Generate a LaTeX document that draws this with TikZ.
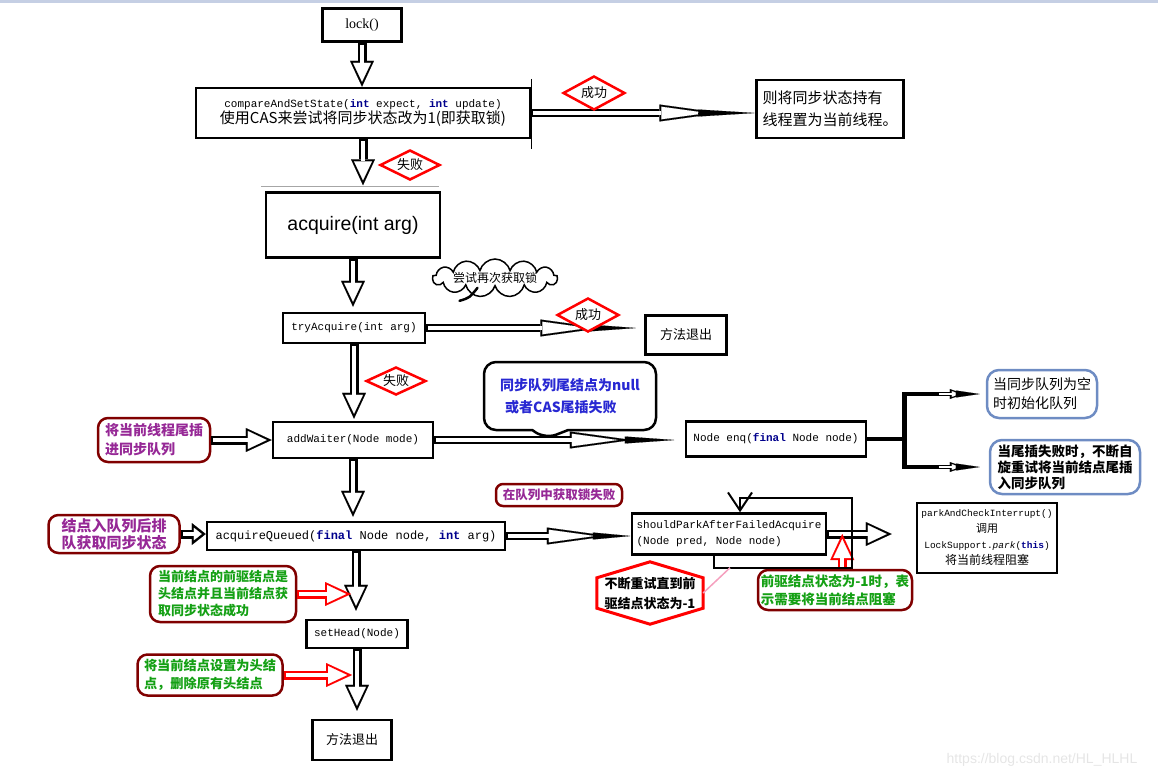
\documentclass[tikz,border=0pt]{standalone}
\usepackage{fontspec}
\setmainfont{Noto Sans CJK SC}
\setmonofont{Liberation Mono}
\newfontfamily\arialfont{Liberation Sans}
\newfontfamily\timesfont{Liberation Serif}
\usepackage{xcolor}
\usepackage{tikz}
\usetikzlibrary{shapes.geometric, shapes.symbols, shapes.callouts, arrows.meta, calc}

\definecolor{darkred}{RGB}{128,0,0}
\definecolor{txtpurple}{RGB}{150,40,150}
\definecolor{txtgreen}{RGB}{20,160,20}
\definecolor{txtblue}{RGB}{40,40,210}
\definecolor{grayblue}{RGB}{110,140,195}
\definecolor{kwblue}{RGB}{0,0,140}
\definecolor{topband}{RGB}{197,207,228}
\definecolor{linkpink}{RGB}{245,160,190}

\newcommand{\fsz}[2]{\fontsize{#1}{#2}\selectfont}
\newcommand{\kw}[1]{\textbf{\textcolor{kwblue}{#1}}}

\begin{document}
\begin{tikzpicture}[x=1pt, y=-1pt,
    % Estilos de nodos
    codebox/.style={rectangle, draw=black, line width=2.5pt, inner sep=2pt, font=\ttfamily\fsz{11}{16}},
    plainbox/.style={rectangle, draw=black, line width=2.5pt, inner sep=2pt, align=left, font=\fsz{14}{20}},
    redbox/.style={rectangle, rounded corners=10pt, draw=darkred, line width=2.5pt, inner sep=2pt, align=left, font=\bfseries\fsz{13}{17}},
    bluebox/.style={rectangle, rounded corners=12pt, draw=grayblue, line width=2.5pt, inner sep=2pt, align=left, font=\fsz{14}{19}},
    tag/.style={diamond, aspect=2, draw=red, line width=2.5pt, fill=white, inner sep=0pt, minimum width=62pt, minimum height=34pt, font=\fsz{13}{13}},
    % Estilos de flechas
    hollow/.style={draw=#1, line width=9pt, -{Triangle[length=26pt, width=24pt, line width=0.1pt]},
        postaction={draw=white, line width=4pt, shorten <=2pt, shorten >=5pt, -{Triangle[length=19pt, width=18pt, line width=0.1pt]}}},
    hollow/.default=black,
    shorthollow/.style={line width=9pt, -{Triangle[length=14pt, width=22pt, line width=0.1pt]},
        postaction={draw=white, line width=4pt, shorten <=2pt, shorten >=4pt, -{Triangle[length=8pt, width=12.6pt, line width=0.1pt]}}},
    shaft/.style={line width=8pt, -{Triangle[length=62pt, width=17pt, line width=0.1pt]},
        postaction={draw=white, line width=3.6pt, shorten <=2pt, shorten >=14pt, -{Triangle[length=46pt, width=12.6pt, line width=0.1pt]}}},
    minihollow/.style={line width=4.5pt, -{Triangle[length=14pt, width=10pt, line width=0.1pt]},
        postaction={draw=white, line width=1.6pt, shorten <=1pt, shorten >=4pt, -{Triangle[length=8pt, width=5.7pt, line width=0.1pt]}}},
    wedge/.style={line width=0.1pt, -{Triangle[length=#1, width=7pt, line width=0.1pt]}},
    wedge/.default=50pt,
    fork/.style={line width=4.5pt},
    loopline/.style={line width=2pt, -{Straight Barb[length=18pt, width=24pt, line width=2pt]}}
]

\useasboundingbox (0,0) rectangle (1158,777);
\fill[topband] (0,0) rectangle (1158,3);

% Columna principal
\node[codebox, font=\timesfont\fsz{14}{16}, minimum width=79pt, minimum height=33pt] (lock) at (362,25) {lock()};
\node[codebox, align=center, minimum width=334pt, minimum height=50pt] (cas) at (363,113)
    {compareAndSetState(\kw{int} expect, \kw{int} update)\\{\rmfamily\fsz{15}{18}使用CAS来尝试将同步状态改为1(即获取锁)}};
\node[plainbox, font=\fsz{15}{22}, minimum width=147pt, minimum height=58pt] (rel) at (830,109) {则将同步状态持有\\线程置为当前线程。};
\node[plainbox, font=\arialfont\fsz{19.5}{22}, minimum width=174pt, minimum height=65pt] (acq) at (353,225) {acquire(int arg)};
\node[cloud, cloud puffs=13, cloud ignores aspect, draw, line width=1.5pt, inner sep=0pt, minimum width=125pt, minimum height=38pt, font=\fsz{12}{12}] (cloud) at (495,278) {尝试再次获取锁};
\node[codebox, minimum width=142pt, minimum height=30pt] (try) at (354,328) {tryAcquire(int arg)};
\node[plainbox, font=\fsz{13}{13}, minimum width=81pt, minimum height=39pt] (exit1) at (686,335) {方法退出};
\node[rectangle callout, rounded corners=12pt, draw, line width=2.5pt, minimum width=172pt, minimum height=68pt,
    callout absolute pointer={(545,439)}, callout pointer width=36pt, align=left, text=txtblue,
    font=\bfseries\fsz{14}{22}] (bubble) at (570,396) {同步队列尾结点为null\\\hspace*{5pt}或者CAS尾插失败};

% Fila addWaiter
\node[redbox, text=txtpurple, font=\bfseries\fsz{14}{19}, minimum width=112pt, minimum height=44pt] (qtail) at (154,440) {将当前线程尾插\\进同步队列};
\node[codebox, minimum width=160pt, minimum height=36pt] (addw) at (353,440) {addWaiter(Node mode)};
\node[codebox, minimum width=180pt, minimum height=35pt] (enq) at (776,439) {Node enq(\kw{final} Node node)};
\node[bluebox, minimum width=110pt, minimum height=48pt] (qinit) at (1042,394) {当同步队列为空\\时初始化队列};
\node[bluebox, font=\bfseries\fsz{13.5}{16}, minimum width=150pt, minimum height=54pt] (qspin) at (1065,467) {当尾插失败时，不断自\\旋重试将当前结点尾插\\入同步队列};

% Fila acquireQueued
\node[redbox, text=txtpurple, rounded corners=7pt, font=\bfseries\fsz{12.5}{14}, minimum width=126pt, minimum height=22pt] (qfail) at (559,495) {在队列中获取锁失败};
\node[redbox, text=txtpurple, font=\bfseries\fsz{15}{17}, minimum width=131pt, minimum height=38pt] (qenter) at (114,534) {结点入队列后排\\队获取同步状态};
\node[codebox, font=\ttfamily\fsz{12}{16}, minimum width=298pt, minimum height=28pt] (acqq) at (356,536) {acquireQueued(\kw{final} Node node, \kw{int} arg)};
\node[codebox, align=left, minimum width=194pt, minimum height=41pt] (should) at (729,534) {shouldParkAfterFailedAcquire\\(Node pred, Node node)};
\node[plainbox, align=center, font=\fsz{12}{16}, minimum width=140pt, minimum height=70pt] (park) at (987,538)
    {{\ttfamily\fsz{9.5}{16}parkAndCheckInterrupt()}\\{\fsz{11}{16}调用}\\{\ttfamily\fsz{9.5}{16}LockSupport.\textit{park}(\kw{this})}\\将当前线程阻塞};
\node[inner sep=0pt, minimum width=106pt, minimum height=62pt, align=left, font=\bfseries\fsz{13}{20}] (hex) at (650,593) {不断重试直到前\\驱结点状态为-1};
\node[redbox, text=txtgreen, font=\bfseries\fsz{13.5}{18}, minimum width=154pt, minimum height=40pt] (wait) at (835,590) {前驱结点状态为-1时，表\\示需要将当前结点阻塞};

% Parte inferior
\node[redbox, text=txtgreen, minimum width=146pt, minimum height=56pt] (head1) at (223,594) {当前结点的前驱结点是\\头结点并且当前结点获\\取同步状态成功};
\node[codebox, minimum width=101pt, minimum height=28pt] (seth) at (357,634) {setHead(Node)};
\node[redbox, text=txtgreen, font=\bfseries\fsz{13.2}{18}, minimum width=145pt, minimum height=41pt] (head2) at (210,675) {将当前结点设置为头结\\点，删除原有头结点};
\node[plainbox, font=\fsz{13}{13}, minimum width=79pt, minimum height=40pt] (exit2) at (352,740) {方法退出};

\node[text=black!10, font=\arialfont\fsz{14}{14}] (wm) at (1042,760) {https://blog.csdn.net/HL\_HLHL};

% Detalles
\draw[line width=1pt] ($(cas.north east)+(0,-8)$) -- ($(cas.south east)+(0,10)$);
\draw[black!35, line width=1pt] ($(acq.north west)+(-4,-5)$) -- ($(acq.north east)+(-2,-5)$);
\draw[line width=2.5pt, line cap=round] ($(cloud.south west)+(28,-4)$) .. controls ($(cloud.south west)+(20,6)$) .. ($(cloud.south west)+(10,9)$);
\draw[red, line width=3pt] (hex.north) -- ($(hex.north east)+(0,16)$) -- ($(hex.south east)+(0,-16)$)
    -- (hex.south) -- ($(hex.south west)+(0,-16)$) -- ($(hex.north west)+(0,16)$) -- cycle;

% Flechas principales
\draw[hollow] (lock.south) -- (lock.south |- cas.north);
\draw[hollow] (cas.south) -- ($(cas.south |- acq.north)+(0,-6)$);
\draw[hollow] (acq.south) -- ($(acq.south |- try.north)+(0,-5)$);
\draw[hollow] (try.south) -- ($(try.south |- addw.north)+(0,-2)$);
\draw[hollow] (addw.south) -- ($(addw.south |- acqq.north)+(0,-4)$);
\draw[hollow] (acqq.south) -- ($(acqq.south |- seth.north)+(0,-8)$);
\draw[hollow] (seth.south) -- ($(seth.south |- exit2.north)+(0,-8)$);

% Flechas horizontales
\draw[shaft] (cas.east) -- ($(rel.west |- cas.east)+(-34,0)$);
\draw[wedge=57pt] ($(rel.west |- cas.east)+(-57,0)$) -- (rel.west |- cas.east);
\draw[shaft] (try.east) -- ($(exit1.west |- try.east)+(-42,0)$);
\draw[wedge=48pt] ($(exit1.west |- try.east)+(-56,0)$) -- ($(exit1.west |- try.east)+(-8,0)$);
\draw[shaft] (addw.east) -- ($(enq.west |- addw.east)+(-53,0)$);
\draw[wedge] ($(enq.west |- addw.east)+(-60,0)$) -- ($(enq.west |- addw.east)+(-10,0)$);
\draw[shaft] (acqq.east) -- ($(should.west |- acqq.east)+(-22,0)$);
\draw[wedge=38pt] ($(should.west |- acqq.east)+(-38,0)$) -- (should.west |- acqq.east);
\draw[hollow] (should.east) -- ($(park.west |- should.east)+(-24,0)$);

% Ramas de enq
\coordinate (fk) at ($(enq.east)+(37,0)$);
\draw[fork] (enq.east) -- (fk);
\draw[fork] ($(qinit.west)+(-45,0)$) -| (fk |- qspin.west) -- ($(qspin.west)+(-48,0)$);
\draw[minihollow] ($(qinit.west)+(-48,0)$) -- ($(qinit.west)+(-22,0)$);
\draw[wedge=24pt] ($(qinit.west)+(-30,0)$) -- ($(qinit.west)+(-6,0)$);
\draw[minihollow] ($(qspin.west)+(-51,0)$) -- ($(qspin.west)+(-25,0)$);
\draw[wedge=24pt] ($(qspin.west)+(-33,0)$) -- ($(qspin.west)+(-9,0)$);

% Notas laterales
\draw[hollow] (qtail.east) -- (addw.west |- qtail.east);
\draw[shorthollow] (qenter.east) -- (acqq.west |- qenter.east);
\draw[hollow=red] (head1.east) -- ($(acqq.south |- head1.east)+(-5,0)$);
\draw[hollow=red] (head2.east) -- ($(seth.south |- head2.east)+(-5,0)$);
\coordinate (wt) at ($(should.east)+(15,0)$);
\draw[hollow=red] (wt |- wait.north) -- (wt);

% Bucle de reintento
\coordinate (lp) at ($(should.south)+(-15,0)$);
\draw[loopline] (lp) -- ++(0,12) coordinate (lpb) -| ++(138,-70) -| ($(should.north)+(11,0)$);
\draw[linkpink, line width=1.5pt] (hex.east) -- ($(lpb)+(16,0)$);

% Etiquetas
\node[tag] (ok1) at (594,93) {成功};
\node[tag, minimum width=60pt, minimum height=30pt] (fail1) at (410,165) {失败};
\node[tag] (ok2) at (588,315) {成功};
\node[tag, minimum width=60pt, minimum height=28pt] (fail2) at (396,381) {失败};

\end{tikzpicture}
\end{document}
